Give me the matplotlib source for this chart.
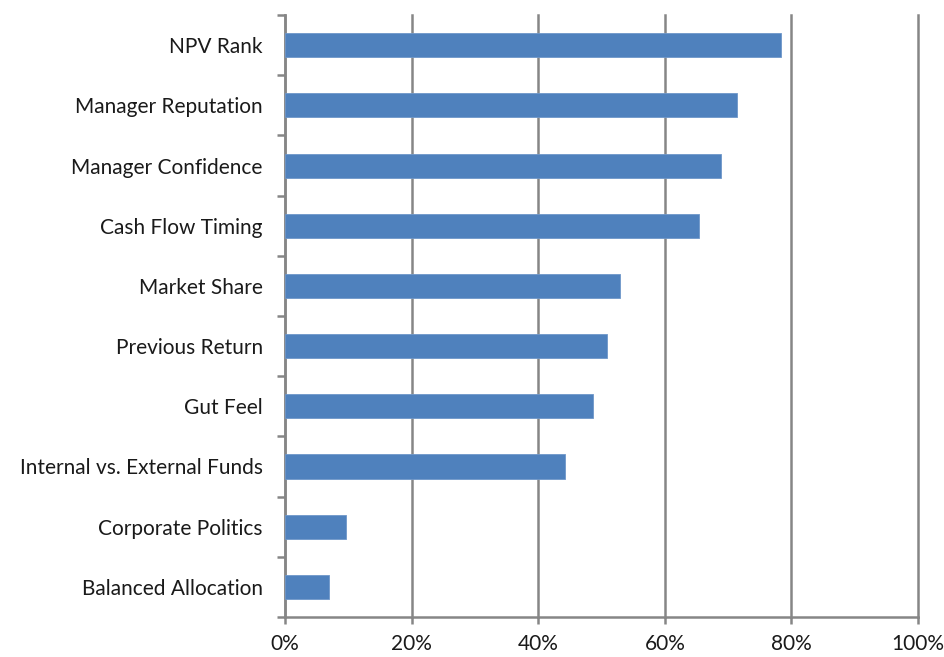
import matplotlib
matplotlib.use("Agg")
import matplotlib.pyplot as plt
from matplotlib.ticker import FixedLocator, PercentFormatter
import numpy as np

categories = [
    "NPV Rank",
    "Manager Reputation",
    "Manager Confidence",
    "Cash Flow Timing",
    "Market Share",
    "Previous Return",
    "Gut Feel",
    "Internal vs. External Funds",
    "Corporate Politics",
    "Balanced Allocation",
]
values = [78.4, 71.4, 68.9, 65.4, 52.9, 50.9, 48.6, 44.2, 9.6, 6.9]
x_ticks = [0, 20, 40, 60, 80, 100]

grid_color = "#868686"
bar_color = "#4F81BD"

plt.rcParams["font.family"] = ["Lato", "DejaVu Sans"]

fig = plt.figure(figsize=(9.44, 6.57), dpi=100)
ax = fig.add_axes([0.302, 0.061, 0.6705, 0.916])

y = np.arange(len(categories))
ax.barh(y, values, height=0.4, color=bar_color, edgecolor="#6F97C9", linewidth=0.6, zorder=3)

ax.set_xlim(0, 100)
ax.set_ylim(len(categories) - 0.5, -0.5)

ax.set_xticks(x_ticks)
ax.xaxis.set_major_formatter(PercentFormatter(decimals=0))
ax.set_yticks(y)
ax.set_yticklabels(categories)
ax.yaxis.set_minor_locator(FixedLocator(np.arange(-0.5, len(categories), 1.0)))

ax.xaxis.grid(True, color=grid_color, linewidth=1.8, zorder=0)
ax.yaxis.grid(False)
for gl in ax.get_xgridlines():
    gl.set_clip_on(False)

for side in ("top", "right"):
    ax.spines[side].set_visible(False)
for side in ("left", "bottom"):
    ax.spines[side].set_color(grid_color)
    ax.spines[side].set_linewidth(1.8)

ax.tick_params(axis="x", direction="out", length=5, width=1.8, color=grid_color,
               labelsize=15, pad=7, labelcolor="#1a1a1a")
ax.tick_params(axis="y", which="major", length=0, labelsize=15, pad=16, labelcolor="#1a1a1a")
ax.tick_params(axis="y", which="minor", direction="out", length=6, width=1.8, color=grid_color)

fig.savefig("out.png", dpi=100, facecolor="white")
